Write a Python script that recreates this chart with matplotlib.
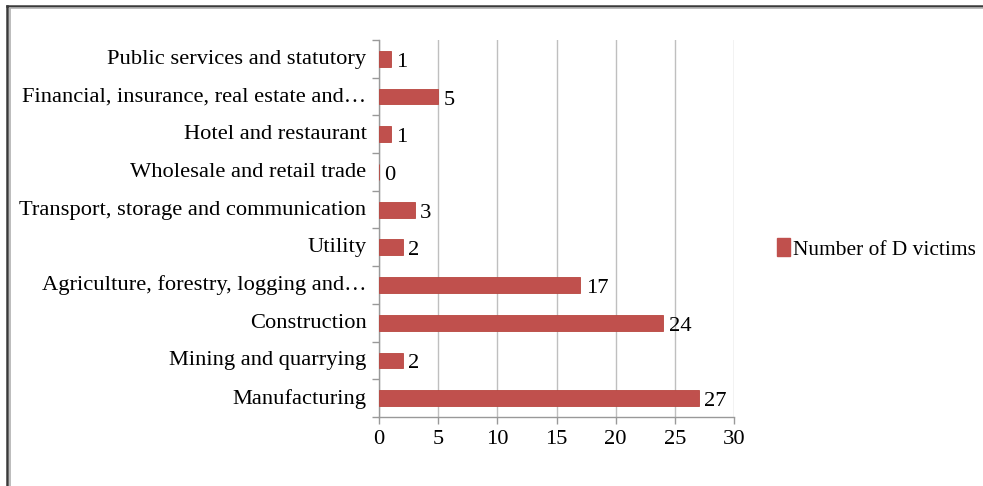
import matplotlib
matplotlib.use("Agg")
import matplotlib.pyplot as plt
import matplotlib.transforms as mtransforms
from matplotlib.lines import Line2D
from matplotlib.patches import Patch
import numpy as np

categories = [
    "Manufacturing",
    "Mining and quarrying",
    "Construction",
    "Agriculture, forestry, logging and…",
    "Utility",
    "Transport, storage and communication",
    "Wholesale and retail trade",
    "Hotel and restaurant",
    "Financial, insurance, real estate and…",
    "Public services and statutory",
]
values = [27, 2, 24, 17, 2, 3, 0, 1, 5, 1]
series_name = "Number of D victims"
xticks = [0, 5, 10, 15, 20, 25, 30]

plt.rcParams['font.family'] = ['Liberation Serif', 'DejaVu Serif']
W, H = 983, 486
FS = 16.2
fig = plt.figure(figsize=(W / 100, H / 100), dpi=100)

# outer frame
fig.add_artist(Line2D([7 / W, 7 / W], [0, 1 - 6 / H], transform=fig.transFigure, color='#3a3a3a', lw=1.8))
fig.add_artist(Line2D([7 / W, 1], [1 - 6 / H, 1 - 6 / H], transform=fig.transFigure, color='#3a3a3a', lw=1.8))
fig.add_artist(Line2D([9.5 / W, 9.5 / W], [0, 1 - 8.5 / H], transform=fig.transFigure, color='#b0b0b0', lw=1.2))
fig.add_artist(Line2D([9.5 / W, 1], [1 - 8.5 / H, 1 - 8.5 / H], transform=fig.transFigure, color='#b0b0b0', lw=1.2))

ax = fig.add_axes([379 / W, 1 - 417 / H, (734 - 379) / W, (417 - 40) / H])
y = np.arange(len(categories))
bar_color = '#C0504D'
ax.barh(y, values, height=0.42, color=bar_color, edgecolor='#b8463f', linewidth=0.6, zorder=3)

for yi, v in zip(y, values):
    ax.annotate(str(v), xy=(v, yi), xytext=(4, -2.5), textcoords='offset points',
                va='center', ha='left', fontsize=FS, color='black')

ax.set_xlim(0, 30)
ax.set_ylim(-0.5, len(categories) - 0.5)
ax.set_xticks(xticks)
ax.set_xticklabels([str(t) for t in xticks], fontsize=FS)
ax.set_yticks(y)
ax.set_yticklabels(categories, fontsize=FS)
ax.set_yticks(np.arange(-0.5, len(categories), 1), minor=True)
ax.tick_params(axis='y', which='major', length=0, pad=9)
ax.tick_params(axis='y', which='minor', length=5, color='#999999', width=1)
ax.tick_params(axis='x', which='major', length=5, color='#999999', width=1, pad=4)

shift = mtransforms.ScaledTranslation(0, 1.5 / 72, fig.dpi_scale_trans)
for lab in ax.get_yticklabels():
    lab.set_transform(lab.get_transform() + shift)

ax.grid(axis='x', color='#bfbfbf', linewidth=1, zorder=0)
for s in ['top', 'right']:
    ax.spines[s].set_visible(False)
for s in ['left', 'bottom']:
    ax.spines[s].set_color('#999999')
    ax.spines[s].set_linewidth(1)

handle = Patch(facecolor=bar_color, edgecolor=bar_color)
fig.legend([handle], [series_name], loc='center left', bbox_to_anchor=(777 / W, 1 - 249 / H),
           frameon=False, fontsize=15.4, handlelength=0.6, handleheight=0.9, handletextpad=0.15,
           borderaxespad=0, borderpad=0)

fig.savefig("out.png", dpi=100)
